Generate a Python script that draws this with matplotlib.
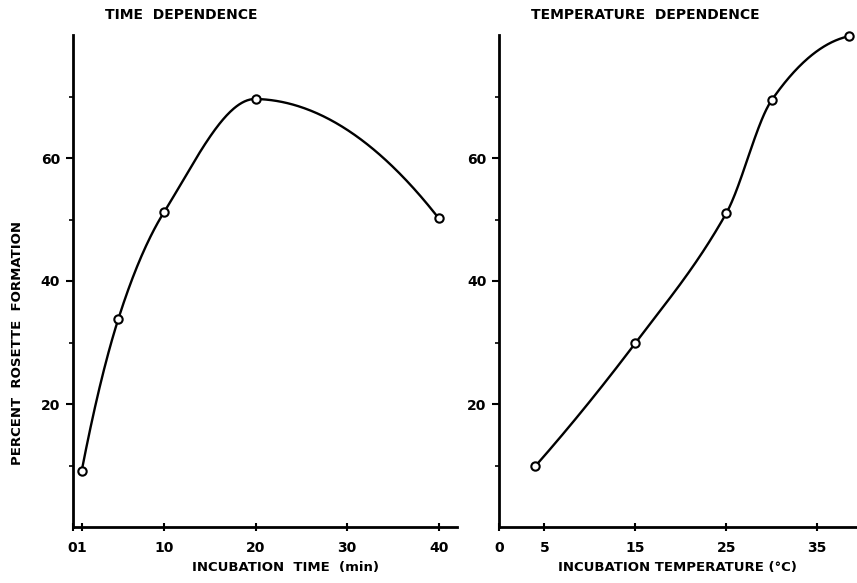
import numpy as np
import matplotlib
matplotlib.use("Agg")
import matplotlib.pyplot as plt

plt.rcParams['font.family'] = ['DejaVu Sans']
plt.rcParams['font.weight'] = 'bold'

# Time dependence of rosette formation
time_min = [1, 5, 10, 20, 40]
time_pct = [9.1, 33.8, 51.2, 69.6, 50.2]

# Temperature dependence of rosette formation
temp_c = [4, 15, 25, 30, 38.5]
temp_pct = [9.9, 29.9, 51.0, 69.4, 79.8]

time_ticks = [0, 1, 10, 20, 30, 40]
time_ticklabels = ["0", "1", "10", "20", "30", "40"]
temp_ticks = [0, 5, 15, 25, 35]
temp_ticklabels = ["0", "5", "15", "25", "35"]
y_ticks = [20, 40, 60]
y_minor = [10, 30, 50, 70]


def smooth_curve(x, y, n=400):
    """Cubic Hermite curve through the points: centred-difference tangents
    inside, parabolic end conditions at both ends."""
    x = np.asarray(x, float)
    y = np.asarray(y, float)
    h = np.diff(x)
    d = np.diff(y) / h
    m = np.empty_like(y)
    m[1:-1] = (y[2:] - y[:-2]) / (x[2:] - x[:-2])
    m[0] = 2 * d[0] - m[1]
    m[-1] = 2 * d[-1] - m[-2]
    xs = np.linspace(x[0], x[-1], n)
    i = np.clip(np.searchsorted(x, xs) - 1, 0, len(x) - 2)
    t = (xs - x[i]) / h[i]
    h00 = 2 * t ** 3 - 3 * t ** 2 + 1
    h10 = t ** 3 - 2 * t ** 2 + t
    h01 = -2 * t ** 3 + 3 * t ** 2
    h11 = t ** 3 - t ** 2
    ys = h00 * y[i] + h10 * h[i] * m[i] + h01 * y[i + 1] + h11 * h[i] * m[i + 1]
    return xs, ys


fig = plt.figure(figsize=(8.57, 5.83), dpi=100)
W, H = 857, 583
ax1 = fig.add_axes([72.5 / W, 1 - 527 / H, (457 - 72.5) / W, (527 - 35) / H])
ax2 = fig.add_axes([499 / W, 1 - 527 / H, (858 - 499) / W, (527 - 35) / H])

panels = [
    (ax1, time_min, time_pct, (0, 42), time_ticks, time_ticklabels),
    (ax2, temp_c, temp_pct, (0, 39.5), temp_ticks, temp_ticklabels),
]

for ax, xv, yv, xlim, xt, xtl in panels:
    xs, ys = smooth_curve(xv, yv)
    ax.plot(xs, ys, color="black", lw=1.7, zorder=2)
    ax.plot(xv, yv, "o", ms=6, mfc="white", mec="black", mew=1.5, zorder=3,
            clip_on=False)
    ax.set_xlim(*xlim)
    ax.set_ylim(0, 80)
    for s in ("top", "right"):
        ax.spines[s].set_visible(False)
    for s in ("left", "bottom"):
        ax.spines[s].set_linewidth(2)
    ax.set_xticks(xt)
    ax.set_xticklabels(xtl, fontsize=10, fontweight="bold")
    ax.set_yticks(y_ticks)
    ax.set_yticklabels([str(v) for v in y_ticks], fontsize=10, fontweight="bold")
    ax.set_yticks(y_minor, minor=True)
    ax.tick_params(axis="y", which="major", direction="out", length=5, width=1.5, pad=4)
    ax.tick_params(axis="y", which="minor", direction="out", length=3, width=1.2)
    ax.tick_params(axis="x", which="major", direction="inout", length=6, width=1.5, pad=7)

fig.text(105 / W, 1 - 15 / H, "TIME  DEPENDENCE", fontsize=10,
         fontweight="bold", ha="left", va="center")
fig.text(531 / W, 1 - 15 / H, "TEMPERATURE  DEPENDENCE", fontsize=10,
         fontweight="bold", ha="left", va="center")
fig.text(285 / W, 1 - 568 / H, "INCUBATION  TIME  (min)", fontsize=9.5,
         fontweight="bold", ha="center", va="center")
fig.text(677 / W, 1 - 568 / H, "INCUBATION TEMPERATURE (°C)", fontsize=9.5,
         fontweight="bold", ha="center", va="center")
fig.text(18 / W, 1 - 343 / H, "PERCENT  ROSETTE  FORMATION", fontsize=9.5,
         fontweight="bold", rotation=90, ha="center", va="center")

fig.savefig("out.png", dpi=100, facecolor="white")
